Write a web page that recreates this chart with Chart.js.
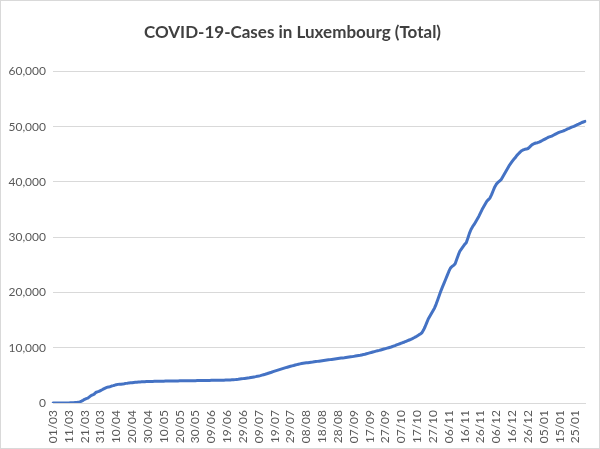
<!DOCTYPE html>
<html>
<head>
<meta charset="utf-8">
<script src="https://cdn.jsdelivr.net/npm/chart.js@4/dist/chart.umd.min.js"></script>
<style>
html,body{margin:0;padding:0;background:#fff;}
#wrap{position:relative;width:600px;height:449px;}
</style>
</head>
<body>
<div id="wrap"><canvas id="c" width="600" height="449"></canvas></div>
<script>
const title = "COVID-19-Cases in Luxembourg (Total)";
const startDate = "2020-03-01";
const tickLabels = ["01/03","11/03","21/03","31/03","10/04","20/04","30/04","10/05","20/05","30/05",
  "09/06","19/06","29/06","09/07","19/07","29/07","08/08","18/08","28/08","07/09","17/09","27/09",
  "07/10","17/10","27/10","06/11","16/11","26/11","06/12","16/12","26/12","05/01","15/01","25/01"];
// Total cases per day, 01/03/2020 .. 31/01/2021
const casesMar = [0,0,1,2,3,3,4,5,5,7,7,26,34,51,77,81,140,203,335,484,670,798,875,1099,1333,1453,1605,1900,2020,2100,2250];
const casesApr = [2400,2560,2700,2820,2900,2950,3070,3140,3220,3320,3370,3390,3400,3420,3480,3550,3590,3640,3655,3665,3720,3760,3770,3800,3815,3825,3830,3845,3870,3885];
const casesMay = [3890,3900,3905,3915,3925,3935,3940,3945,3950,3955,3960,3965,3970,3975,3980,3985,3990,3995,4000,4005,4010,4012,4015,4018,4020,4025,4030,4035,4040,4045,4050];
const casesJun = [4055,4060,4065,4070,4075,4080,4085,4090,4095,4100,4105,4110,4115,4120,4125,4130,4135,4140,4150,4160,4175,4190,4210,4230,4260,4290,4330,4370,4410,4450];
const casesJul = [4490,4530,4570,4620,4670,4720,4770,4830,4890,4960,5040,5120,5200,5290,5390,5480,5570,5670,5770,5860,5950,6040,6130,6220,6310,6400,6480,6560,6640,6720,6790];
const casesAug = [6870,6940,7010,7080,7140,7190,7230,7270,7300,7340,7380,7410,7450,7490,7530,7570,7610,7650,7690,7730,7770,7810,7850,7890,7930,7970,8010,8050,8090,8130,8160];
const casesSep = [8190,8230,8270,8310,8350,8390,8440,8490,8540,8590,8640,8700,8760,8820,8900,8980,9060,9140,9220,9300,9380,9450,9520,9600,9680,9760,9840,9920,10000,10080];
const casesOct = [10180,10280,10380,10500,10620,10720,10830,10940,11040,11160,11280,11400,11520,11650,11800,11960,12140,12320,12480,12700,13200,13800,14500,15200,15700,16200,16700,17200,17900,18700,19500];
const casesNov = [20300,21000,21700,22400,23100,23800,24400,24700,24900,25200,26000,26800,27500,27900,28300,28700,29000,29800,30700,31400,31900,32300,32800,33300,33800,34400,35000,35500,36000,36500];
const casesDec = [36800,37100,37700,38400,39100,39600,39900,40150,40400,40900,41400,41900,42400,42900,43300,43700,44100,44400,44800,45100,45400,45650,45800,45900,45950,46050,46300,46600,46800,46950,47050];
const casesJan = [47100,47200,47350,47500,47650,47800,47950,48100,48200,48300,48450,48600,48750,48900,49000,49100,49200,49300,49450,49600,49700,49850,49950,50050,50200,50350,50450,50600,50750,50850,50950];

const cases = [].concat(casesMar,casesApr,casesMay,casesJun,casesJul,casesAug,casesSep,casesOct,casesNov,casesDec,casesJan);

const categories = [];
{
  const d0 = new Date(startDate + "T12:00:00Z");
  for (let i = 0; i < cases.length; i++) {
    const d = new Date(d0.getTime() + i * 86400000);
    categories.push(String(d.getUTCDate()).padStart(2,"0") + "/" + String(d.getUTCMonth()+1).padStart(2,"0"));
  }
}

const borderPlugin = {
  id: "outerBorder",
  afterDraw(chart) {
    const ctx = chart.ctx;
    ctx.save();
    ctx.strokeStyle = "#d9d9d9";
    ctx.lineWidth = 1;
    ctx.strokeRect(0.5, 0.5, chart.width - 1, chart.height - 1);
    ctx.restore();
  }
};

const FONT = "Lato, 'Open Sans', 'Liberation Sans', sans-serif";

new Chart(document.getElementById("c"), {
  type: "line",
  data: {
    labels: categories,
    datasets: [{
      data: cases,
      borderColor: "#4472C4",
      borderWidth: 3,
      pointRadius: 0,
      pointHoverRadius: 0,
      fill: false,
      tension: 0,
      borderCapStyle: "round",
      borderJoinStyle: "round"
    }]
  },
  options: {
    responsive: false,
    animation: false,
    devicePixelRatio: 1,
    layout: { padding: { left: 0, right: 15, top: 0, bottom: 0 } },
    plugins: {
      legend: { display: false },
      tooltip: { enabled: false },
      title: {
        display: true,
        text: title,
        color: "#404040",
        font: { family: FONT, size: 17, weight: "bold" },
        padding: { top: 22, bottom: 29 }
      }
    },
    scales: {
      x: {
        type: "category",
        offset: false,
        afterFit: function(s) { s.height = 46; s.paddingRight = 0; s.paddingLeft = 0; },
        grid: { display: false, drawTicks: false },
        border: { display: true, color: "#d9d9d9", width: 1 },
        ticks: {
          autoSkip: false,
          maxRotation: 90,
          minRotation: 90,
          padding: 7,
          color: "#595959",
          font: { family: FONT, size: 12 },
          callback: function(value, index) {
            return index % 10 === 0 ? tickLabels[index / 10] : "";
          }
        }
      },
      y: {
        min: 0,
        max: 60000,
        afterFit: function(s) { s.width = 53; },
        grid: { color: "#d9d9d9", drawTicks: false, lineWidth: 1 },
        border: { display: false },
        ticks: {
          stepSize: 10000,
          padding: 7,
          color: "#595959",
          font: { family: FONT, size: 12 },
          callback: function(v) { return v.toLocaleString("en-US"); }
        }
      }
    }
  },
  plugins: [borderPlugin]
});
</script>
</body>
</html>
